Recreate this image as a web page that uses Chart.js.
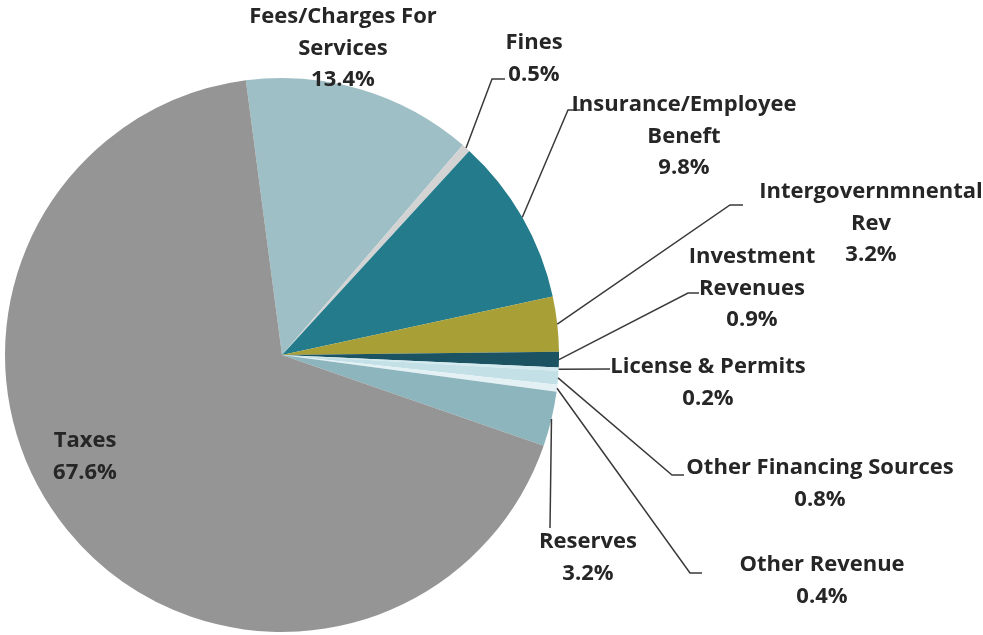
<!DOCTYPE html>
<html>
<head>
<meta charset="utf-8">
<script src="https://cdn.jsdelivr.net/npm/chart.js@4/dist/chart.umd.min.js"></script>
<style>
    html, body { margin: 0; padding: 0; background: #ffffff; }
    #wrap { width: 983px; height: 635px; position: relative; }
</style>
</head>
<body>
<div id="wrap"><canvas id="revenueChart"></canvas></div>
<script>
// Revenue sources (share of total, %)
const categories = [
    'Fees/Charges For Services', 'Fines', 'Insurance/Employee Beneft', 'Intergovernmnental Rev',
    'Investment Revenues', 'License & Permits', 'Other Financing Sources', 'Other Revenue',
    'Reserves', 'Taxes'
];
const values = [13.4, 0.5, 9.8, 3.2, 0.9, 0.2, 0.8, 0.4, 3.2, 67.6];
const sliceColors = [
    '#9ebfc5', '#d3d3d3', '#237b8b', '#a8a036', '#1b5363',
    '#d2eaef', '#c3e0e6', '#e4f1f4', '#8db5bd', '#959595'
];

// how each label is wrapped, where it sits and where its leader line bends
const labelLines = [
    ['Fees/Charges For', 'Services'], ['Fines'], ['Insurance/Employee', 'Beneft'],
    ['Intergovernmnental', 'Rev'], ['Investment', 'Revenues'], ['License & Permits'],
    ['Other Financing Sources'], ['Other Revenue'], ['Reserves'], ['Taxes']
];
const labelLayout = [
    { x: 343, y: 17, leader: null },
    { x: 534, y: 43, leader: [[492, 79], [505, 79]] },
    { x: 684, y: 105, leader: [[568, 110], [580, 110]] },
    { x: 871, y: 192, leader: [[730, 205], [743, 205]] },
    { x: 752, y: 257, leader: [[688, 293], [699, 293]] },
    { x: 708, y: 367, leader: [[610, 369]] },
    { x: 820, y: 468, leader: [[672, 475], [684, 475]] },
    { x: 822, y: 565, leader: [[690, 573], [702, 573]] },
    { x: 588, y: 542, leader: [[550, 528]] },
    { x: 85, y: 441, leader: null }
];
const lineHeight = 31.5;

const sliceLabels = {
    id: 'sliceLabels',
    afterDatasetsDraw(chart) {
        const ctx = chart.ctx;
        const arcs = chart.getDatasetMeta(0).data;
        ctx.save();
        // leader lines
        ctx.strokeStyle = '#3a3a3a';
        ctx.lineWidth = 1.5;
        arcs.forEach((arc, i) => {
            const lay = labelLayout[i];
            if (!lay.leader) return;
            const mid = (arc.startAngle + arc.endAngle) / 2;
            ctx.beginPath();
            ctx.moveTo(arc.x + Math.cos(mid) * arc.outerRadius, arc.y + Math.sin(mid) * arc.outerRadius);
            lay.leader.forEach(p => ctx.lineTo(p[0], p[1]));
            ctx.stroke();
        });
        // label text
        ctx.fillStyle = '#262626';
        ctx.font = 'bold 22px "Open Sans"';
        ctx.textAlign = 'center';
        ctx.textBaseline = 'middle';
        arcs.forEach((arc, i) => {
            const lay = labelLayout[i];
            const lines = labelLines[i].concat([values[i].toFixed(1) + '%']);
            lines.forEach((t, k) => ctx.fillText(t, lay.x, lay.y + k * lineHeight));
        });
        ctx.restore();
    }
};

new Chart(document.getElementById('revenueChart'), {
    type: 'pie',
    data: {
        labels: categories,
        datasets: [{
            data: values,
            backgroundColor: sliceColors,
            borderWidth: 0
        }]
    },
    options: {
        responsive: true,
        maintainAspectRatio: false,
        animation: false,
        rotation: -7.5,
        layout: { padding: { top: 78, bottom: 3, left: 5, right: 424 } },
        plugins: {
            legend: { display: false },
            tooltip: { enabled: false }
        }
    },
    plugins: [sliceLabels]
});
</script>
</body>
</html>
